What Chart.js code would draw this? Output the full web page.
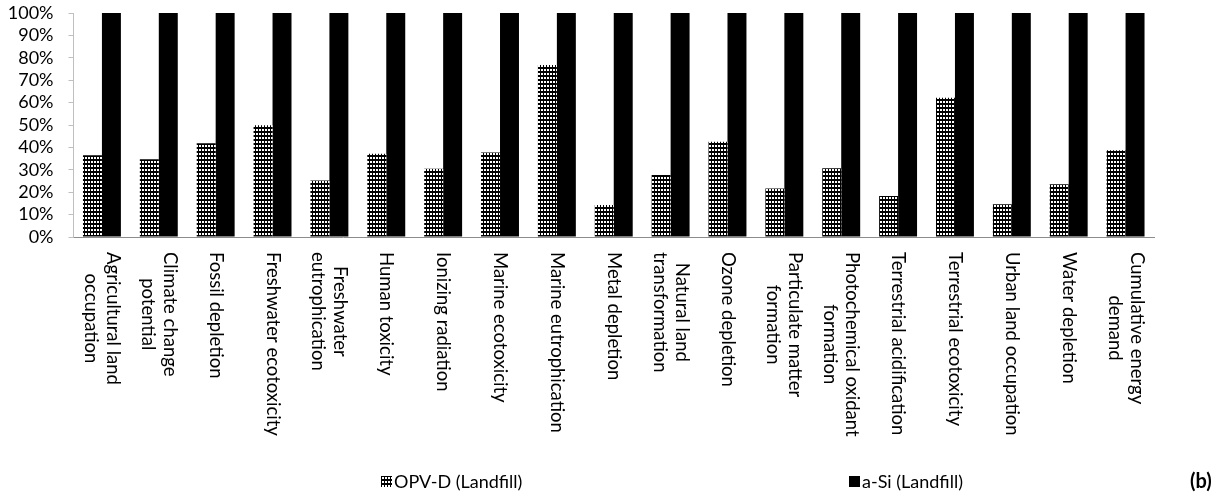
<!DOCTYPE html>
<html>
<head>
<meta charset="utf-8">
<script src="https://cdn.jsdelivr.net/npm/chart.js@4"></script>
<style>
  body { margin: 0; background: #fff; }
  #wrap { width: 1228px; height: 502px; }
</style>
</head>
<body>
<div id="wrap"><canvas id="lcaChart"></canvas></div>
<script>
const categories = [
  ['Agricultural land', 'occupation'],
  ['Climate change', 'potential'],
  'Fossil depletion',
  'Freshwater ecotoxicity',
  ['Freshwater', 'eutrophication'],
  'Human toxicity',
  'Ionizing radiation',
  'Marine ecotoxicity',
  'Marine eutrophication',
  'Metal depletion',
  ['Natural land', 'transformation'],
  'Ozone depletion',
  ['Particulate matter', 'formation'],
  ['Photochemical oxidant', 'formation'],
  'Terrestrial acidification',
  'Terrestrial ecotoxicity',
  'Urban land occupation',
  'Water depletion',
  ['Cumulative energy', 'demand']
];
const opvLandfill = [36.5, 34.7, 41.8, 49.9, 25.2, 37.2, 30.5, 37.7, 76.8, 14.3, 27.7, 42.5, 21.6, 30.7, 18.3, 62.2, 14.6, 23.5, 38.7];
const asiLandfill = [100, 100, 100, 100, 100, 100, 100, 100, 100, 100, 100, 100, 100, 100, 100, 100, 100, 100, 100];
const seriesNames = ['OPV-D (Landfill)', 'a-Si (Landfill)'];
const panelTag = '(b)';

const FONT = 'Lato, "Liberation Sans", sans-serif';

// dotted fill: black with small white squares
function makeDots() {
  const c = document.createElement('canvas');
  c.width = 3; c.height = 4;
  const g = c.getContext('2d');
  g.fillStyle = '#000';
  g.fillRect(0, 0, 3, 4);
  g.fillStyle = '#fff';
  g.fillRect(1, 1, 2, 2);
  return g.createPattern(c, 'repeat');
}

const ctx = document.getElementById('lcaChart').getContext('2d');
const dots = makeDots();

// rotated category labels (read top to bottom) + legend + panel tag
const extras = {
  id: 'extras',
  afterDraw(chart) {
    const c = chart.ctx;
    const xs = chart.scales.x;
    c.save();
    c.fillStyle = '#000';
    c.font = '18.5px ' + FONT;
    const lineH = 22;
    const top = 252;
    categories.forEach((lab, i) => {
      const lines = Array.isArray(lab) ? lab : [lab];
      const w = Math.max(...lines.map(l => c.measureText(l).width));
      const x = xs.getPixelForValue(i);
      c.save();
      c.translate(x, top + w / 2);
      c.rotate(Math.PI / 2);
      c.textAlign = 'center';
      c.textBaseline = 'middle';
      lines.forEach((l, k) => {
        const off = (k - (lines.length - 1) / 2) * lineH;
        c.fillText(l, 0, off);
      });
      c.restore();
    });

    // legend
    const legendX = [381, 849];
    const legendY = 482;
    c.font = '18px ' + FONT;
    c.textAlign = 'left';
    c.textBaseline = 'middle';
    chart.data.datasets.forEach((ds, i) => {
      c.fillStyle = ds.backgroundColor;
      c.fillRect(legendX[i], legendY - 6, 11, 11);
      c.fillStyle = '#000';
      c.fillText(seriesNames[i], legendX[i] + 13, legendY);
    });

    c.font = 'bold 20px ' + FONT;
    c.fillText(panelTag, 1190, legendY);
    c.restore();
  }
};

new Chart(ctx, {
  type: 'bar',
  data: {
    labels: categories,
    datasets: [{
      label: seriesNames[0],
      data: opvLandfill,
      backgroundColor: dots,
      borderWidth: 0
    }, {
      label: seriesNames[1],
      data: asiLandfill,
      backgroundColor: '#000',
      borderWidth: 0
    }]
  },
  options: {
    responsive: true,
    maintainAspectRatio: false,
    animation: false,
    datasets: {
      bar: { categoryPercentage: 0.667, barPercentage: 1.0 }
    },
    layout: { padding: { left: 7, right: 74, top: 13, bottom: 265 } },
    plugins: {
      legend: { display: false },
      tooltip: { enabled: false }
    },
    scales: {
      x: {
        grid: { display: false },
        border: { display: true, color: '#8c8c8c', width: 1 },
        ticks: { display: false },
        afterFit(s) { s.height = 0; }
      },
      y: {
        min: 0,
        max: 100,
        grid: { display: true, drawOnChartArea: false, drawTicks: true, tickLength: 5, color: '#bfbfbf' },
        border: { display: true, color: '#bfbfbf', width: 1 },
        ticks: {
          stepSize: 10,
          autoSkip: false,
          padding: 15,
          color: '#000',
          font: { family: FONT, size: 18 },
          callback: v => v + '%'
        },
        afterFit(s) {
          s.width = 66.5;
          s.paddingTop = 0;
          s.paddingBottom = 0;
        }
      }
    }
  },
  plugins: [extras]
});
</script>
</body>
</html>
